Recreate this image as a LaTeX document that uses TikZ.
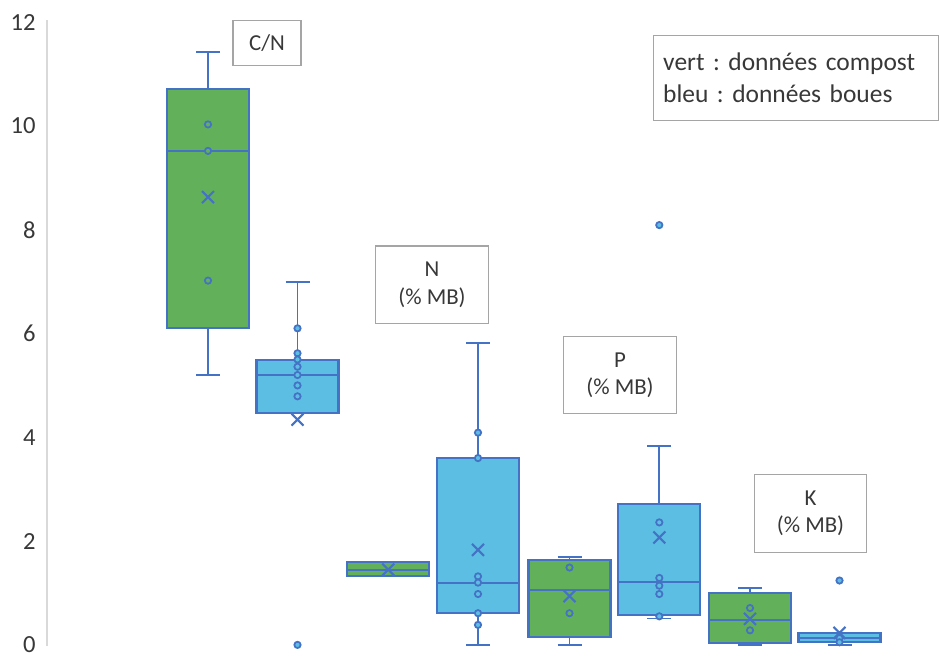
\documentclass[tikz,border=0pt]{standalone}
\usepackage{fontspec}
\setmainfont{Carlito}
\frenchspacing
\usetikzlibrary{positioning}
\definecolor{vert}{RGB}{99,176,90}
\definecolor{bleu}{RGB}{93,190,227}
\definecolor{trait}{RGB}{68,114,196}
\definecolor{cadre}{RGB}{165,165,165}
\definecolor{chiffre}{RGB}{56,56,56}

% #1 centre, #2 low whisker, #3 q1, #4 median, #5 q3, #6 high whisker, #7 mean, #8 fill
\newcommand{\boite}[8]{%
  \draw[whisker] (#1,#2) -- (#1,#6);
  \draw[whisker] (#1-12,#2) -- (#1+12,#2) (#1-12,#6) -- (#1+12,#6);
  \draw[boxline, fill=#8] (#1-41,#3) rectangle (#1+41,#5);
  \draw[boxline] (#1-41,#4) -- (#1+41,#4);
  \draw[boxline] (#1,#7) +(-3.4pt,-3.4pt) -- +(3.4pt,3.4pt) +(-3.4pt,3.4pt) -- +(3.4pt,-3.4pt);
}

\begin{document}
\begin{tikzpicture}[x=0.02cm, y=1.038cm,
  whisker/.style={trait, line width=1pt},
  boxline/.style={trait, line width=1.2pt},
  pt/.style={trait, line width=1pt},
  etiquette/.style={draw=cadre, line width=0.6pt, align=center, text=chiffre, font=\fontsize{13}{15.5}\selectfont, minimum width=2.25cm, minimum height=1.55cm},
  tick/.style={anchor=east, text=chiffre, font=\fontsize{14}{16}\selectfont, inner sep=0pt}]
\useasboundingbox (0,-0.2312) rectangle (940,12.4277);

% axis
\draw[black!15, line width=0.8pt] (47,-0.03) -- (47,12.04);
\foreach \v in {0,2,...,12}
  \node[tick] (t\v) at (36,\v) {\v};

% C/N
\boite{208}{5.2}{6.11}{9.52}{10.71}{11.42}{8.63}{vert}
\foreach \v in {10.03,9.52,7.02}
  \draw[pt, fill=vert] (208,\v) circle (1.8pt);
\boite{297.5}{4.46}{4.46}{5.2}{5.49}{7.0}{4.34}{bleu}
\foreach \v in {6.1,5.62,5.5,5.36,5.2,5.0,4.79,0}
  \draw[pt, fill=bleu] (297.5,\v) circle (1.8pt);

% N
\boite{388.3}{1.33}{1.33}{1.45}{1.59}{1.59}{1.45}{vert}
\boite{478}{0}{0.61}{1.19}{3.6}{5.82}{1.83}{bleu}
\foreach \v in {4.09,3.6,1.32,1.2,0.98,0.61,0.385}
  \draw[pt, fill=bleu] (478,\v) circle (1.8pt);

% P
\boite{569.5}{0}{0.15}{1.06}{1.64}{1.7}{0.94}{vert}
\foreach \v in {1.49,0.61}
  \draw[pt, fill=vert] (569.5,\v) circle (1.8pt);
\boite{659.3}{0.51}{0.58}{1.21}{2.72}{3.83}{2.07}{bleu}
\foreach \v in {8.09,2.36,1.29,1.14,0.98,0.55}
  \draw[pt, fill=bleu] (659.3,\v) circle (1.8pt);

% K
\boite{750}{0}{0.04}{0.48}{1.0}{1.09}{0.5}{vert}
\foreach \v in {0.71,0.28}
  \draw[pt, fill=vert] (750,\v) circle (1.8pt);
\boite{839.5}{0}{0.06}{0.14}{0.225}{0.225}{0.23}{bleu}
\foreach \v in {1.24,0.13,0.05}
  \draw[pt, fill=bleu] (839.5,\v) circle (1.8pt);

% labels
\node[etiquette, minimum width=1.36cm, minimum height=0.9cm] (cn) at (267,11.59) {C/N};
\node[etiquette] (n) at (432,6.94) {N\\(\% MB)};
\node[etiquette] (p) at (620,5.2) {P\\(\% MB)};
\node[etiquette] (k) at (810.5,2.53) {K\\(\% MB)};
\node[etiquette, anchor=west, align=left, text width=5.3cm, inner xsep=0.2cm, minimum height=1.7cm,
  font=\fontsize{14.5}{18}\selectfont] (leg) at (652.7,10.93)
  {vert : données compost\\bleu : données boues};
\end{tikzpicture}
\end{document}
